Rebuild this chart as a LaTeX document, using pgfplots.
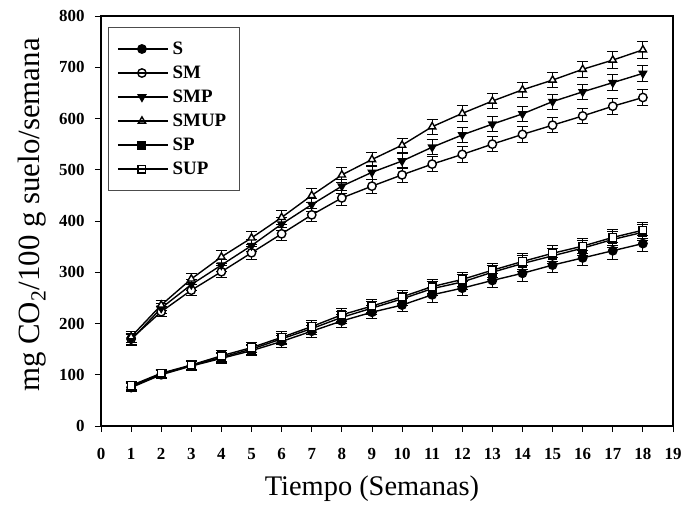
\documentclass[border=0pt]{standalone}
\usepackage{fontspec}
\setmainfont{Liberation Serif}
\usepackage{pgfplots}
\usepackage{pgfplotstable}
\pgfplotsset{compat=1.18}

% week, CO2 (mg/100 g soil/week), standard error
\pgfplotstableread{
x y e
1 75 8
2 100 8
3 117 9
4 132 10
5 147 10
6 165 11
7 185 12
8 205 12
9 222 13
10 236 13
11 256 14
12 269 14
13 284 14
14 298 15
15 314 15
16 328 15
17 342 16
18 356 16
}\tS
\pgfplotstableread{
x y e
1 77 8
2 102 8
3 118 9
4 134 10
5 150 10
6 170 11
7 190 12
8 212 12
9 230 13
10 248 13
11 268 14
12 281 14
13 300 14
14 317 15
15 332 15
16 347 15
17 364 16
18 378 16
}\tSP
\pgfplotstableread{
x y e
1 79 8
2 103 8
3 119 9
4 137 10
5 153 10
6 173 11
7 194 12
8 217 12
9 234 13
10 252 13
11 272 14
12 286 14
13 304 14
14 321 15
15 337 15
16 351 15
17 368 16
18 382 16
}\tSUP
\pgfplotstableread{
x y e
1 170 10
2 223 10
3 265 11
4 301 12
5 338 12
6 375 13
7 412 13
8 445 14
9 468 14
10 490 14
11 511 15
12 530 15
13 550 15
14 569 15
15 587 15
16 605 15
17 624 16
18 641 16
}\tSM
\pgfplotstableread{
x y e
1 168 10
2 230 10
3 276 11
4 314 12
5 352 12
6 394 13
7 432 13
8 468 14
9 495 14
10 517 14
11 544 15
12 568 15
13 589 15
14 609 15
15 633 15
16 652 15
17 670 16
18 688 16
}\tSMP
\pgfplotstableread{
x y e
1 174 10
2 236 10
3 287 11
4 330 12
5 367 12
6 407 13
7 450 13
8 490 14
9 520 14
10 548 14
11 584 15
12 610 15
13 634 15
14 656 15
15 675 15
16 696 15
17 714 16
18 734 16
}\tSMUP

\begin{document}
\begin{tikzpicture}
\begin{axis}[
  name=ax,
  scale only axis,
  width=572bp, height=410bp,
  xmin=0, xmax=19, ymin=0, ymax=800,
  xtick={0,1,...,19}, ytick={0,100,...,800},
  tick align=outside, tick pos=left,
  major tick length=6bp,
  axis line style={line width=1.6bp},
  every tick/.style={black, line width=0.8bp},
  /pgf/number format/assume math mode=true,
  ticklabel style={font=\bfseries\fontsize{17}{17}\selectfont},
  xticklabel style={yshift=-13bp},
  yticklabel style={xshift=-7bp},
  xlabel={Tiempo (Semanas)},
  ylabel={mg CO\textsubscript{2}/100 g suelo/semana},
  xlabel style={font=\fontsize{28.5}{30}\selectfont,
    at={(axis description cs:0.5,0)}, anchor=base, xshift=-15bp, yshift=-69bp},
  % the label is rotated: xshift runs along it, yshift away from the axis
  ylabel style={font=\fontsize{31}{33}\selectfont,
    at={(axis description cs:0,0.5)}, anchor=south, xshift=6bp, yshift=51bp},
  legend cell align=left,
  legend style={at={(rel axis cs:0.012,0.973)}, anchor=north west,
    draw=black!70, line width=0.8bp, inner xsep=9bp, inner ysep=13.5bp,
    row sep=8bp,
    nodes={inner ysep=1bp, inner xsep=4bp},
    font=\bfseries\fontsize{19}{19}\selectfont},
  legend image code/.code={%
    \draw[mark repeat=2, mark phase=2, #1] plot coordinates {(0bp,0bp) (22bp,0bp) (44bp,0bp)};
    \path (-2bp,0bp) -- (48bp,0bp);},
  every axis plot/.append style={black, line width=1.4bp, mark size=4.2bp,
    mark options={solid, line width=0.8bp}},
  error bars/y dir=both,
  error bars/y explicit,
  error bars/error bar style={line width=0.8bp},
  error bars/error mark options={rotate=90, mark size=5.5bp, line width=0.8bp},
]
\addplot[mark=*, mark options={fill=black}] table[x=x, y=y, y error=e] {\tS};
\addlegendentry{S}
\addplot[mark=*, mark options={fill=white}] table[x=x, y=y, y error=e] {\tSM};
\addlegendentry{SM}
\addplot[mark=triangle*, mark options={fill=black, rotate=180}] table[x=x, y=y, y error=e] {\tSMP};
\addlegendentry{SMP}
\addplot[mark=triangle*, mark options={fill=white}] table[x=x, y=y, y error=e] {\tSMUP};
\addlegendentry{SMUP}
\addplot[mark=square*, mark size=3.8bp, mark options={fill=black}] table[x=x, y=y, y error=e] {\tSP};
\addlegendentry{SP}
\addplot[mark=square*, mark size=3.8bp, mark options={fill=white}] table[x=x, y=y, y error=e] {\tSUP};
\addlegendentry{SUP}
\end{axis}
% page frame around the chart
\path (ax.south west) ++(-101bp,-77bp) rectangle ++(685bp,503bp);
\end{tikzpicture}
\end{document}
